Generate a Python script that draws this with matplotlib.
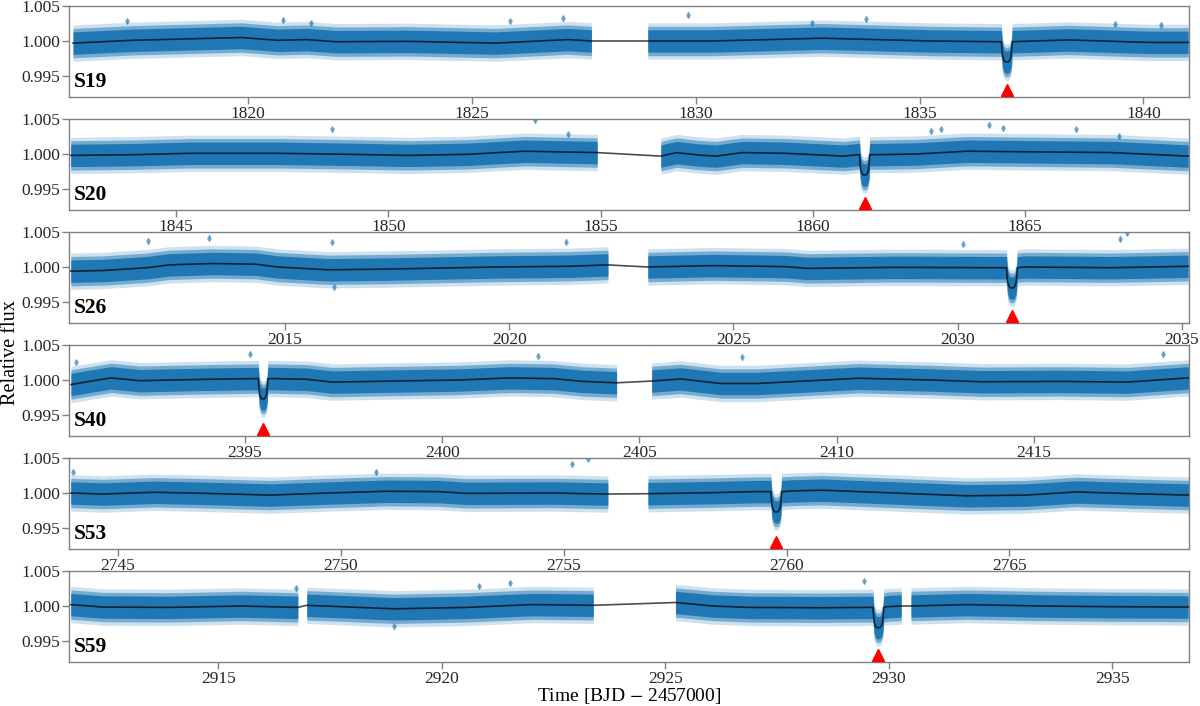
import numpy as np
import matplotlib
matplotlib.use("Agg")
import matplotlib.pyplot as plt

plt.rcParams['font.family'] = ['Liberation Serif', 'DejaVu Serif']
plt.rcParams['mathtext.fontset'] = 'stix'

# ---------------- data ----------------
sectors = ['S19', 'S20', 'S26', 'S40', 'S53', 'S59']

xlims = [(1816.0, 1841.02), (1842.48, 1868.86), (2010.18, 2035.16),
         (2390.54, 2418.93), (2743.9, 2769.03), (2911.66, 2936.72)]

xticks = [[1820, 1825, 1830, 1835, 1840],
          [1845, 1850, 1855, 1860, 1865],
          [2015, 2020, 2025, 2030, 2035],
          [2395, 2400, 2405, 2410, 2415],
          [2745, 2750, 2755, 2760, 2765],
          [2915, 2920, 2925, 2930, 2935]]

yticks = [0.995, 1.000, 1.005]

segments_s19 = [(1816.09, 1827.67), (1828.93, 1841.0)]
segments_s20 = [(1842.52, 1854.92), (1856.42, 1868.84)]
segments_s26 = [(2010.22, 2022.2), (2023.09, 2035.14)]
segments_s40 = [(2390.59, 2404.42), (2405.31, 2418.92)]
segments_s53 = [(2743.94, 2755.99), (2756.89, 2769.02)]
segments_s59 = [(2911.7, 2916.78), (2916.98, 2923.39), (2925.23, 2930.28), (2930.5, 2936.7)]

trend_t_s19 = [1816.09, 1817.42, 1819.85, 1820.66, 1821.31, 1821.96, 1823.58, 1825.53, 1827.15,
               1827.67, 1828.93, 1830.39, 1832.82, 1835.26, 1836.72, 1838.34, 1840.12, 1841.0]
trend_f_s19 = [0.9997, 1.0001, 1.0005, 1.0001, 1.0002, 0.9999, 0.99995, 0.9997, 1.0002,
               1.0000, 1.0000, 1.0000, 1.0004, 1.0000, 0.9999, 1.00015, 0.9998, 0.9998]

trend_t_s20 = [1842.52, 1843.98, 1845.34, 1847.4, 1849.1, 1850.47, 1851.84, 1853.21, 1854.92,
               1856.42, 1856.79, 1857.31, 1857.73, 1858.33, 1859.36, 1860.73, 1861.05,
               1861.41, 1862.44, 1863.63, 1865.34, 1867.05, 1868.84]
trend_f_s20 = [0.9998, 0.9999, 1.0001, 1.0001, 0.99995, 0.9998, 0.99995, 1.0004, 1.0002,
               0.9997, 1.0002, 0.99985, 0.9997, 1.0002, 1.0001, 0.9997, 0.9999,
               0.9999, 1.0000, 1.0004, 1.0003, 1.0002, 0.9997]

trend_t_s26 = [2010.22, 2010.95, 2011.92, 2012.41, 2013.38, 2014.35, 2014.83, 2015.97, 2017.26,
               2019.69, 2021.31, 2022.2, 2023.09, 2024.54, 2026.16, 2026.65, 2028.59, 2030.86,
               2031.5, 2033.44, 2035.14]
trend_f_s26 = [0.9994, 0.9995, 0.9999, 1.0003, 1.0005, 1.0004, 1.0000, 0.9996, 0.9997,
               1.0000, 1.0001, 1.0003, 1.0000, 1.0002, 1.00005, 0.9998, 0.99995, 0.9999,
               1.0000, 0.9999, 1.0001]

trend_t_s40 = [2390.59, 2391.05, 2391.6, 2392.34, 2394.0, 2395.28, 2395.74, 2396.57, 2397.21,
               2398.22, 2400.43, 2401.72, 2402.82, 2403.56, 2404.42, 2405.31, 2406.04, 2407.06,
               2407.98, 2410.55, 2412.39, 2413.68, 2415.7, 2417.36, 2418.92]
trend_f_s40 = [0.99935, 0.9998, 1.0003, 0.9999, 1.0001, 1.0002, 1.0002, 1.0001, 0.9997,
               0.9998, 1.0000, 1.0003, 1.0002, 0.9998, 0.9996, 0.99985, 1.00015, 0.9995,
               0.9995, 1.00025, 1.0000, 0.99975, 0.9998, 0.9997, 1.0003]

trend_t_s53 = [2743.94, 2744.67, 2745.81, 2746.95, 2748.42, 2749.72, 2751.03, 2752.17, 2752.82,
               2754.77, 2755.99, 2756.89, 2758.35, 2759.33, 2760.15, 2760.8, 2762.43, 2764.05,
               2765.36, 2766.5, 2767.8, 2769.02]
trend_f_s53 = [1.0000, 0.99985, 1.0001, 0.99995, 0.9997, 1.0000, 1.00025, 1.0002, 0.99995,
               1.0000, 0.99985, 0.9999, 1.00005, 1.0002, 1.0003, 1.0004, 1.0000, 0.9996,
               0.9997, 1.00015, 0.9999, 0.9997]

trend_t_s59 = [2911.7, 2912.43, 2913.9, 2915.52, 2916.78, 2916.98, 2918.93, 2920.55, 2922.01,
               2923.39, 2925.23, 2926.07, 2926.88, 2928.5, 2929.48, 2929.97, 2930.28, 2930.5,
               2931.75, 2933.38, 2935.0, 2936.7]
trend_f_s59 = [1.0002, 0.99985, 0.9998, 1.0000, 0.9998, 1.0001, 0.9996, 0.9998, 1.0002,
               1.0001, 1.0005, 1.0000, 0.9998, 0.99975, 0.9998, 0.9999, 1.0000, 1.0000,
               1.0002, 1.0000, 0.9999, 0.99985]

# transit mid-times and local baseline
transit_t = [1836.95, 1861.22, 2031.21, 2395.46, 2759.77, 2929.77]
transit_base = [0.9999, 0.9999, 0.9999, 1.0002, 1.0002, 0.9998]
# transit profile (offset from mid-time in days, depth below baseline)
transit_dt = [-0.12, -0.105, -0.09, -0.06, -0.03, 0.0, 0.03, 0.06, 0.09, 0.105, 0.12]
transit_depth = [0.0, -0.0015, -0.0022, -0.0027, -0.0029, -0.0029, -0.0029, -0.0027, -0.0022, -0.0015, 0.0]

# isolated outlying points (time, flux)
out_t_s19 = [1817.29, 1820.78, 1821.4, 1825.85, 1827.04, 1829.83, 1832.6, 1833.8, 1839.37, 1840.4]
out_f_s19 = [1.0028, 1.0030, 1.0025, 1.0028, 1.0033, 1.0037, 1.0025, 1.0031, 1.0024, 1.0023]
out_t_s20 = [1848.68, 1853.46, 1854.23, 1862.78, 1863.03, 1864.15, 1864.49, 1866.2, 1867.22]
out_f_s20 = [1.0035, 1.0048, 1.0028, 1.0033, 1.0035, 1.0042, 1.0037, 1.0035, 1.0025]
out_t_s26 = [2011.95, 2013.3, 2016.05, 2021.26, 2030.13, 2033.61, 2033.77, 2016.1]
out_f_s26 = [1.0037, 1.0041, 1.0035, 1.0036, 1.0033, 1.0040, 1.0049, 0.9971]
out_t_s40 = [2390.72, 2395.13, 2402.42, 2407.61, 2418.28]
out_f_s40 = [1.0025, 1.0037, 1.0034, 1.0033, 1.0037]
out_t_s53 = [2744.0, 2750.78, 2755.18, 2755.55]
out_f_s53 = [1.0030, 1.0030, 1.0041, 1.0049]
out_t_s59 = [2916.73, 2920.84, 2921.52, 2929.45, 2918.93]
out_f_s59 = [1.0025, 1.0028, 1.0033, 1.0035, 0.9971]

segments = [segments_s19, segments_s20, segments_s26, segments_s40, segments_s53, segments_s59]
trend_t = [trend_t_s19, trend_t_s20, trend_t_s26, trend_t_s40, trend_t_s53, trend_t_s59]
trend_f = [trend_f_s19, trend_f_s20, trend_f_s26, trend_f_s40, trend_f_s53, trend_f_s59]
out_t = [out_t_s19, out_t_s20, out_t_s26, out_t_s40, out_t_s53, out_t_s59]
out_f = [out_f_s19, out_f_s20, out_f_s26, out_f_s40, out_f_s53, out_f_s59]

# scatter envelope half-widths (outer fringe, middle, core)
band_widths = [0.0026, 0.0021, 0.0016]
band_alphas = [0.22, 0.5, 1.0]

BLUE = '#1f77b4'
SPINE = '#808080'

fig = plt.figure(figsize=(12, 7.06), dpi=100)
W, H = 1200.0, 706.0
left, right = 69 / W, 1189 / W

for i in range(6):
    top_px = 6 + 113 * i
    h_px = 91
    ax = fig.add_axes([left, 1 - (top_px + h_px) / H, right - left, h_px / H])

    # build knots: trend plus transit profile
    t0 = transit_t[i]
    kt = list(trend_t[i]) + [t0 + d for d in transit_dt]
    kf = list(trend_f[i]) + [transit_base[i] + d for d in transit_depth]
    order = np.argsort(kt)
    kt = np.array(kt)[order]
    kf = np.array(kf)[order]

    # scatter band per data segment
    for (s0, s1) in segments[i]:
        m = (kt >= s0 - 1e-6) & (kt <= s1 + 1e-6)
        for w, a in zip(band_widths, band_alphas):
            ax.fill_between(kt[m], kf[m] - w, kf[m] + w, color=BLUE, alpha=a,
                            linewidth=0, zorder=2)

    # outliers
    ax.errorbar(out_t[i], out_f[i], yerr=0.0004, fmt='d', ms=3, color=BLUE,
                ecolor=BLUE, elinewidth=0.8, alpha=0.45, zorder=2)

    # trend model
    ax.plot(kt, kf, color='k', lw=1.2, alpha=0.7, zorder=3)

    # transit marker
    ax.plot([t0], [0.99305], marker='^', color='red', ms=8, ls='none', zorder=4,
            clip_on=False)

    ax.set_xlim(*xlims[i])
    ax.set_ylim(0.992, 1.005)
    ax.set_xticks(xticks[i])
    ax.set_yticks(yticks)
    ax.set_yticklabels(['%.3f' % v for v in yticks])
    ax.tick_params(axis='both', direction='out', length=5, width=1, color=SPINE,
                   labelsize=12.5, labelcolor='#262626', top=False, right=False, pad=1.5)
    for sp in ax.spines.values():
        sp.set_color(SPINE)
        sp.set_linewidth(1.0)

    ax.text(0.004, 0.06, sectors[i], transform=ax.transAxes, fontsize=15.5,
            fontweight='bold', ha='left', va='bottom', zorder=5)

fig.text(10.5 / W, 0.5, 'Relative flux', rotation=90, va='center', ha='center', fontsize=14.5)
fig.text(629 / W, 0.5 / H, r'Time [BJD $-$ 2457000]', va='bottom', ha='center', fontsize=14)

fig.savefig('out.png', dpi=100)
